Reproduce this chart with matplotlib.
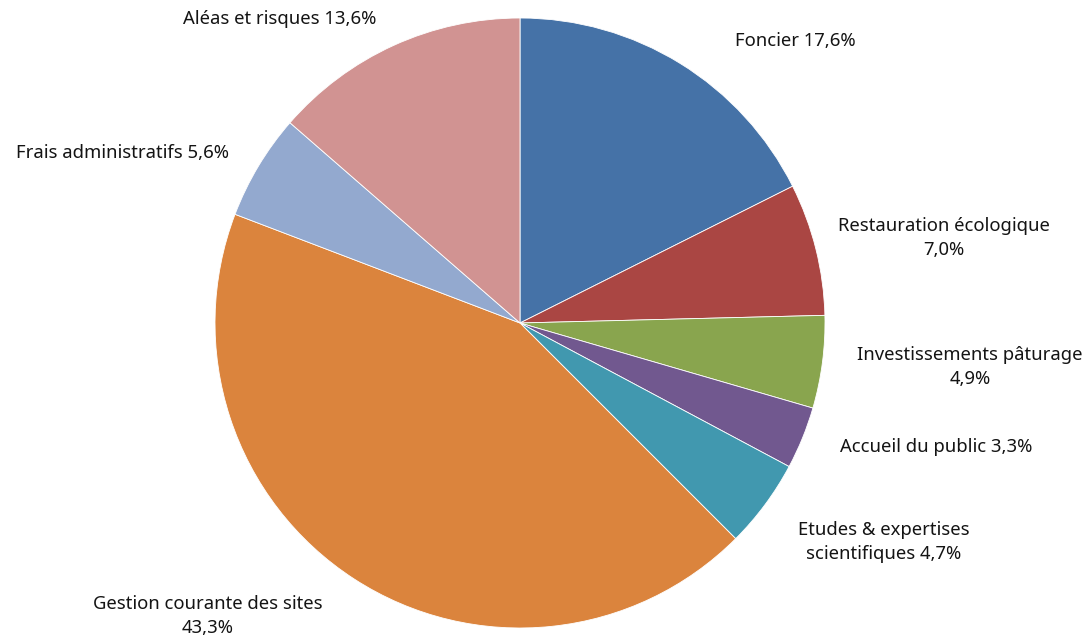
import matplotlib
matplotlib.use("Agg")
import matplotlib.pyplot as plt

categories = ["Foncier", "Restauration écologique", "Investissements pâturage",
              "Accueil du public", "Etudes & expertises scientifiques",
              "Gestion courante des sites", "Frais administratifs", "Aléas et risques"]
values = [17.6, 7.0, 4.9, 3.3, 4.7, 43.3, 5.6, 13.6]
label_texts = ["Foncier 17,6%", "Restauration écologique\n7,0%", "Investissements pâturage\n4,9%",
               "Accueil du public 3,3%", "Etudes & expertises\nscientifiques 4,7%",
               "Gestion courante des sites\n43,3%", "Frais administratifs 5,6%",
               "Aléas et risques 13,6%"]
colors = ["#4572A7", "#AA4643", "#89A54E", "#71588F", "#4198AF", "#DB843D", "#93A9CF", "#D19392"]

W, H = 1089, 638
fig = plt.figure(figsize=(W / 100, H / 100), dpi=100)
ax = fig.add_axes([0, 0, 1, 1])

cx, cy, r = 520, H - 323, 305
ax.pie(values, colors=colors, startangle=90, counterclock=False,
       center=(cx, cy), radius=r, frame=True,
       wedgeprops=dict(edgecolor="white", linewidth=0.6))
ax.set_xlim(0, W)
ax.set_ylim(0, H)
ax.set_aspect("equal")
ax.axis("off")

# label positions in pixel coords (x, y from top)
label_pos = [(795, 41), (944, 238), (970, 367), (936, 447), (884, 542),
             (208, 616), (122, 153), (280, 19)]
for txt, (x, y) in zip(label_texts, label_pos):
    ax.text(x, H - y, txt, ha="center", va="center", fontsize=13.3,
            family="Noto Sans", color="#141414", linespacing=1.45)

fig.savefig("out.png", dpi=100)
